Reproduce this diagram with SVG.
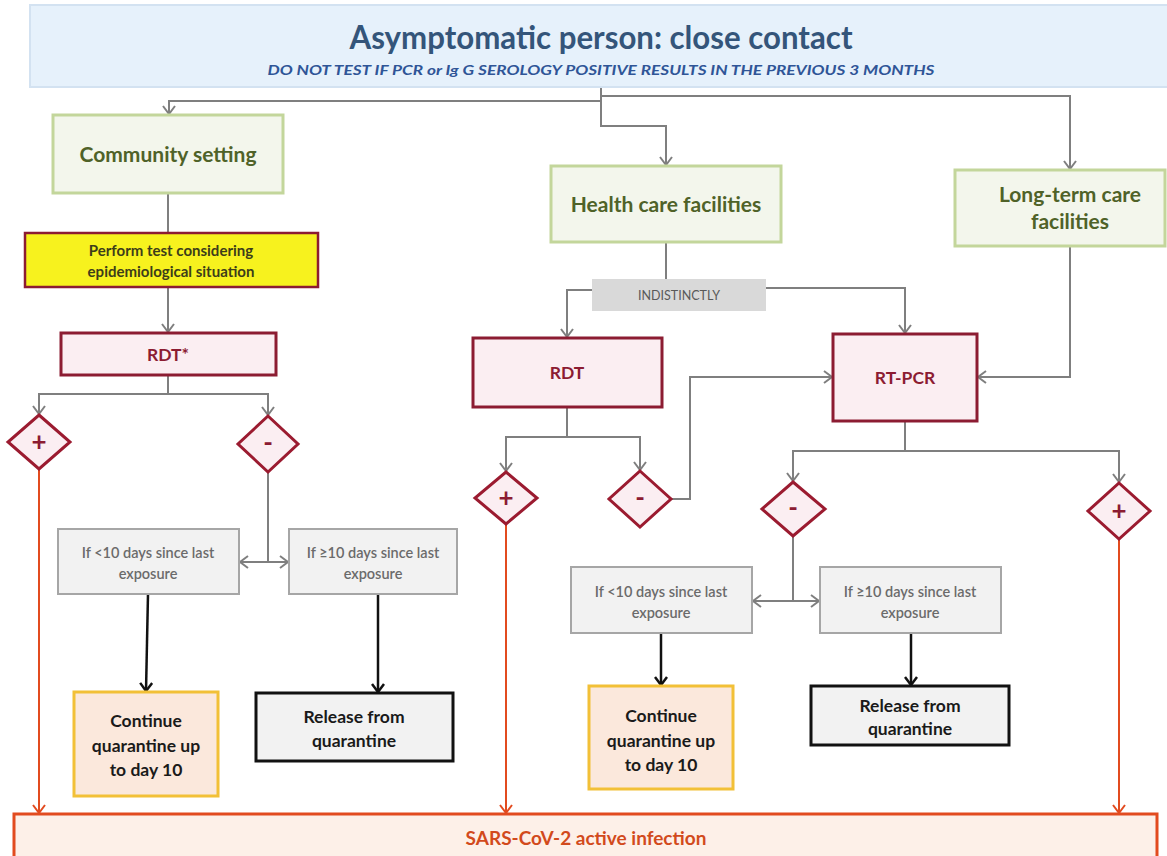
<svg xmlns="http://www.w3.org/2000/svg" width="1167" height="856" viewBox="0 0 1167 856">
<style>
text{font-family:Lato,"Open Sans","Liberation Sans",sans-serif;text-anchor:middle;font-weight:bold}
.hdr{fill:#e6f1fb;stroke:#d3e2f1;stroke-width:2}
.title{fill:#34557a;font-size:32px}
.sub{fill:#2f5597;font-size:14px;font-style:italic}
.grn{fill:#f3f6ec;stroke:#c3d69b;stroke-width:3}
.gt{fill:#4f6228;font-size:21px}
.yel{fill:#f7f21e;stroke:#8c1c32;stroke-width:2.5}
.yt{fill:#3d3d1a;font-size:15px}
.pk{fill:#fbeef2;stroke:#8c1c32;stroke-width:3}
.pt{fill:#8c1c32;font-size:17.5px}
.dia{fill:#fbeef2;stroke:#9b1b30;stroke-width:3}
.dt{fill:#8c1c32;font-size:26px}
.gry{fill:#f2f2f2;stroke:#a6a6a6;stroke-width:2}
.grt{fill:#6b6b6b;font-size:14.5px;font-weight:600}
.ind{fill:#d9d9d9}
.it{fill:#595959;font-size:12.5px;font-weight:normal}
.cont{fill:#fbe8dc;stroke:#f2c037;stroke-width:3}
.rel{fill:#f2f2f2;stroke:#111;stroke-width:3}
.bt{fill:#1a1a1a;font-size:17.5px}
.sars{fill:#fdf0e8;stroke:#e24b1f;stroke-width:3}
.st{fill:#d24a1c;font-size:19px}
.cg{fill:none;stroke:#7f7f7f;stroke-width:2}
.cb{fill:none;stroke:#111;stroke-width:2.5}
.co{fill:none;stroke:#e24b1f;stroke-width:2}
</style>
<defs>
<marker id="ag" viewBox="0 0 10 14" refX="9" refY="7" markerWidth="10" markerHeight="14" markerUnits="userSpaceOnUse" orient="auto-start-reverse"><path d="M1,1 L9,7 L1,13" fill="none" stroke="#7f7f7f" stroke-width="2"/></marker>
<marker id="ab" viewBox="0 0 10 14" refX="9" refY="7" markerWidth="10" markerHeight="14" markerUnits="userSpaceOnUse" orient="auto"><path d="M1,1 L9,7 L1,13" fill="none" stroke="#111" stroke-width="2.5"/></marker>
<marker id="ao" viewBox="0 0 10 14" refX="9" refY="7" markerWidth="10" markerHeight="14" markerUnits="userSpaceOnUse" orient="auto"><path d="M1,1 L9,7 L1,13" fill="none" stroke="#e24b1f" stroke-width="2"/></marker>
</defs>

<g id="connectors">
<path class="cg" d="M601,87 V101 H169 V114" marker-end="url(#ag)"/>
<path class="cg" d="M601,87 V126 H666 V165" marker-end="url(#ag)"/>
<path class="cg" d="M601,96 H1070 V169" marker-end="url(#ag)"/>
<path class="cg" d="M168,193 V233"/>
<path class="cg" d="M168,287 V332" marker-end="url(#ag)"/>
<path class="cg" d="M168,375 V394 H39 V414" marker-end="url(#ag)"/>
<path class="cg" d="M168,394 H268 V415" marker-end="url(#ag)"/>
<path class="cg" d="M268,472 V562"/>
<path class="cg" d="M240,562 H288" marker-start="url(#ag)" marker-end="url(#ag)"/>
<path class="cg" d="M666,242 V279"/>
<path class="cg" d="M592,290 H567 V337" marker-end="url(#ag)"/>
<path class="cg" d="M766,288 H905 V333" marker-end="url(#ag)"/>
<path class="cg" d="M567,407 V437 H506 V471" marker-end="url(#ag)"/>
<path class="cg" d="M567,437 H640 V470" marker-end="url(#ag)"/>
<path class="cg" d="M671,499 H690 V377 H832" marker-end="url(#ag)"/>
<path class="cg" d="M1070,246 V377 H978" marker-end="url(#ag)"/>
<path class="cg" d="M905,421 V451 H793 V481" marker-end="url(#ag)"/>
<path class="cg" d="M905,451 H1119 V482" marker-end="url(#ag)"/>
<path class="cg" d="M793,536 V601"/>
<path class="cg" d="M753,601 H819" marker-start="url(#ag)" marker-end="url(#ag)"/>
<path class="cb" d="M148,594 L146,691" marker-end="url(#ab)"/>
<path class="cb" d="M378,594 V692" marker-end="url(#ab)"/>
<path class="cb" d="M661,633 V685" marker-end="url(#ab)"/>
<path class="cb" d="M911,633 V685" marker-end="url(#ab)"/>
<path class="co" d="M39,469 V813" marker-end="url(#ao)"/>
<path class="co" d="M506,524 V813" marker-end="url(#ao)"/>
<path class="co" d="M1119,539 V813" marker-end="url(#ao)"/>
</g>

<g id="header">
<rect class="hdr" x="30" y="5" width="1150" height="82"/>
<text class="title" x="601" y="49" textLength="503" lengthAdjust="spacingAndGlyphs">Asymptomatic person: close contact</text>
<text class="sub" x="601" y="75" textLength="667" lengthAdjust="spacingAndGlyphs">DO NOT TEST IF PCR or Ig G SEROLOGY POSITIVE RESULTS IN THE PREVIOUS 3 MONTHS</text>
</g>

<g id="community">
<rect class="grn" x="53" y="115" width="230" height="78"/>
<text class="gt" x="168" y="162">Community setting</text>
</g>
<g id="perform-test">
<rect class="yel" x="25" y="233" width="293" height="54"/>
<text class="yt" x="171" y="256">Perform test considering</text>
<text class="yt" x="171" y="277">epidemiological situation</text>
</g>
<g id="rdt-star">
<rect class="pk" x="61" y="333" width="215" height="42"/>
<text class="pt" x="168" y="361">RDT*</text>
</g>
<g id="pos1">
<polygon class="dia" points="39,415 70,442 39,469 8,442"/>
<text class="dt" x="39" y="451">+</text>
</g>
<g id="neg1">
<polygon class="dia" points="268,416 298,444 268,472 238,444"/>
<text class="dt" x="268" y="452">-</text>
</g>
<g id="lt10-a">
<rect class="gry" x="58" y="529" width="181" height="65"/>
<text class="grt" x="148" y="558">If &lt;10 days since last</text>
<text class="grt" x="148" y="579">exposure</text>
</g>
<g id="ge10-a">
<rect class="gry" x="289" y="529" width="168" height="65"/>
<text class="grt" x="373" y="558">If ≥10 days since last</text>
<text class="grt" x="373" y="579">exposure</text>
</g>
<g id="continue-a">
<rect class="cont" x="74" y="692" width="144" height="104"/>
<text class="bt" x="146" y="727">Continue</text>
<text class="bt" x="146" y="752">quarantine up</text>
<text class="bt" x="146" y="776">to day 10</text>
</g>
<g id="release-a">
<rect class="rel" x="256" y="693" width="197" height="68"/>
<text class="bt" x="354" y="723">Release from</text>
<text class="bt" x="354" y="747">quarantine</text>
</g>

<g id="health">
<rect class="grn" x="551" y="166" width="230" height="76"/>
<text class="gt" x="666" y="212">Health care facilities</text>
</g>
<g id="indistinctly">
<rect class="ind" x="592" y="279" width="174" height="32"/>
<text class="it" x="679" y="300">INDISTINCTLY</text>
</g>
<g id="longterm">
<rect class="grn" x="955" y="170" width="210" height="76"/>
<text class="gt" x="1070" y="202">Long-term care</text>
<text class="gt" x="1070" y="229">facilities</text>
</g>
<g id="rdt">
<rect class="pk" x="473" y="338" width="189" height="69"/>
<text class="pt" x="567" y="379">RDT</text>
</g>
<g id="rtpcr">
<rect class="pk" x="833" y="334" width="144" height="87"/>
<text class="pt" x="905" y="384">RT-PCR</text>
</g>
<g id="pos2">
<polygon class="dia" points="506,472 537,498 506,524 475,498"/>
<text class="dt" x="506" y="507">+</text>
</g>
<g id="neg2">
<polygon class="dia" points="640,471 671,499 640,527 609,499"/>
<text class="dt" x="640" y="507">-</text>
</g>
<g id="neg3">
<polygon class="dia" points="793,482 825,509 793,536 762,509"/>
<text class="dt" x="793" y="517">-</text>
</g>
<g id="pos3">
<polygon class="dia" points="1119,483 1150,511 1119,539 1088,511"/>
<text class="dt" x="1119" y="520">+</text>
</g>
<g id="lt10-b">
<rect class="gry" x="571" y="567" width="181" height="66"/>
<text class="grt" x="661" y="597">If &lt;10 days since last</text>
<text class="grt" x="661" y="618">exposure</text>
</g>
<g id="ge10-b">
<rect class="gry" x="820" y="567" width="181" height="66"/>
<text class="grt" x="910" y="597">If ≥10 days since last</text>
<text class="grt" x="910" y="618">exposure</text>
</g>
<g id="continue-b">
<rect class="cont" x="589" y="686" width="144" height="103"/>
<text class="bt" x="661" y="722">Continue</text>
<text class="bt" x="661" y="747">quarantine up</text>
<text class="bt" x="661" y="771">to day 10</text>
</g>
<g id="release-b">
<rect class="rel" x="811" y="686" width="198" height="59"/>
<text class="bt" x="910" y="712">Release from</text>
<text class="bt" x="910" y="735">quarantine</text>
</g>

<g id="sars">
<rect class="sars" x="14" y="814" width="1143" height="52"/>
<text class="st" x="586" y="845">SARS-CoV-2 active infection</text>
</g>
</svg>
